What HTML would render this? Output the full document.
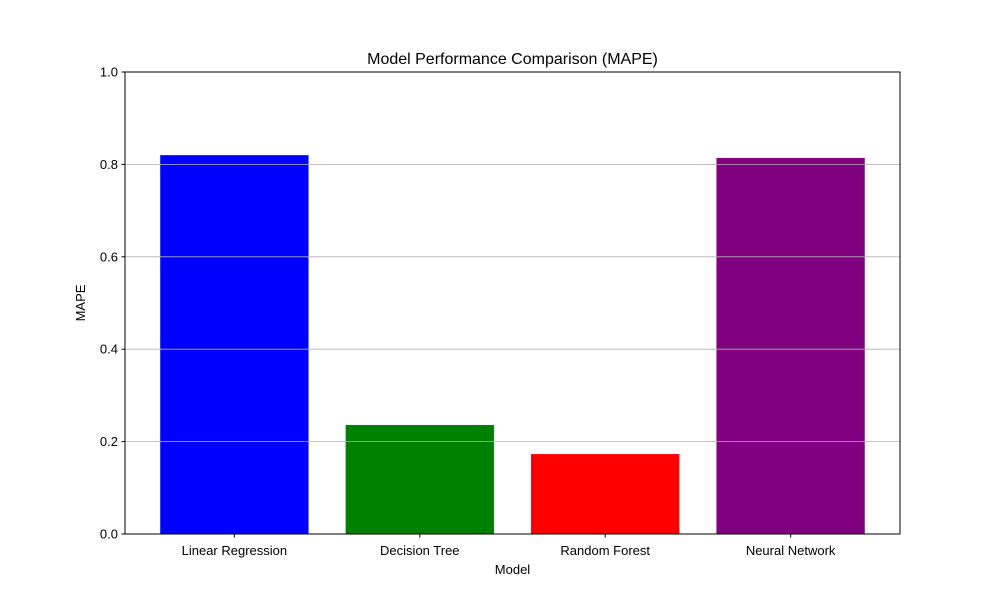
<!DOCTYPE html>
<html><head><meta charset="utf-8"><style>
body{margin:0;background:#fff;}
svg{display:block;font-family:"Liberation Sans","DejaVu Sans",sans-serif;}
</style></head><body>
<svg id="chart" width="1000" height="600">
<rect x="0" y="0" width="1000" height="600" fill="#fff"/>
<g id="bars"></g>
<g id="grid"></g>
<g id="yticks"></g>
<g id="xticks"></g>
<rect x="125" y="72" width="775" height="462" fill="none" stroke="#000" stroke-width="1"/>
<text x="512.5" y="64" text-anchor="middle" font-size="16">Model Performance Comparison (MAPE)</text>
<text x="512.5" y="574" text-anchor="middle" font-size="13">Model</text>
<text x="85" y="303" text-anchor="middle" font-size="13" transform="rotate(-90 85 303)">MAPE</text>
</svg>
<script>
const categories = ["Linear Regression","Decision Tree","Random Forest","Neural Network"];
const values = [0.820, 0.236, 0.173, 0.814];
const colors = ["#0000ff","#008000","#ff0000","#800080"];
const yTicks = [0.0,0.2,0.4,0.6,0.8,1.0];
const yTickLabels = ["0.0","0.2","0.4","0.6","0.8","1.0"];

const NS="http://www.w3.org/2000/svg";
const L=125,R=900,T=72,B=534;
const y=v=>B-(v-0)/(1-0)*(B-T);
const n=categories.length;
const xmin=-0.4-0.05*(n-1+0.8), xmax=n-1+0.4+0.05*(n-1+0.8);
const step=(R-L)/(xmax-xmin);
const x=i=>L+(i-xmin)*step;
function mk(tag,attrs,parent){const e=document.createElementNS(NS,tag);for(const k in attrs)e.setAttribute(k,attrs[k]);parent.appendChild(e);return e;}
const gb=document.getElementById('bars'),gg=document.getElementById('grid'),gy=document.getElementById('yticks'),gx=document.getElementById('xticks');
values.forEach((v,i)=>{
  const bw=step*0.8;
  const r=mk('rect',{x:x(i)-bw/2,y:y(v),width:bw,height:B-y(v),fill:colors[i]},gb);
  
  
  const t=mk('line',{x1:x(i),x2:x(i),y1:B,y2:B+3.5,stroke:'#000'},gx);
  
  
  const lb=mk('text',{x:x(i),y:B+21,'text-anchor':'middle','font-size':13},gx);
  lb.textContent=categories[i];
  
  
});
yTicks.forEach((v,i)=>{
  const g=mk('line',{x1:L,x2:R,y1:y(v),y2:y(v),stroke:'#b0b0b0','stroke-width':0.8},gg);
  
  
  const t=mk('line',{x1:L-3.5,x2:L,y1:y(v),y2:y(v),stroke:'#000'},gy);
  
  
  const lb=mk('text',{x:L-7,y:y(v)+4.5,'text-anchor':'end','font-size':13},gy);
  lb.textContent=yTickLabels[i];
  
  
});
</script>
</body></html>
